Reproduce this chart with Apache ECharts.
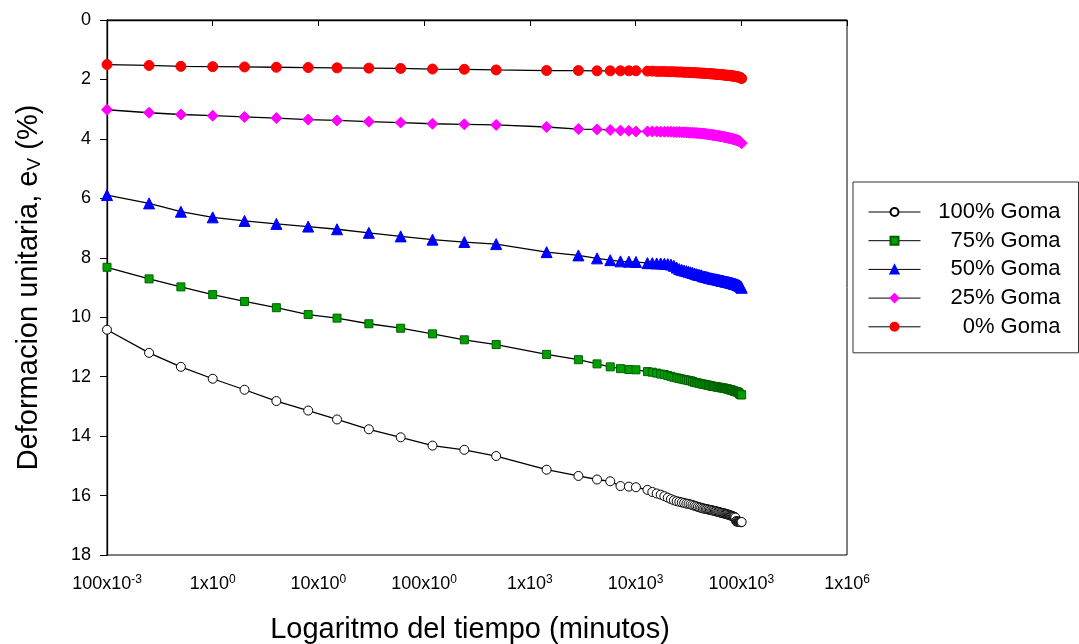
<!DOCTYPE html>
<html><head><meta charset="utf-8">
<script src="https://cdn.jsdelivr.net/npm/echarts@6/dist/echarts.min.js"></script>
<style>html,body{margin:0;padding:0;background:#fff}#c{width:1079px;height:644px}</style>
</head><body><div id="c"></div>
<script>
// Tiempo (minutos)
const tiempo = [0.1, 0.25, 0.5, 1, 2, 4, 8, 15, 30, 60, 120, 240, 480, 1440, 2880, 4320, 5760, 7200, 8640, 10080,
  12960, 14400, 15840, 17280, 18720, 20160, 21600, 23040, 24480, 25920, 27360, 28800, 30240, 31680, 33120, 34560, 36000, 37440, 38880, 40320, 41760,
  43200, 44640, 46080, 47520, 48960, 50400, 51840, 53280, 54720, 56160,
  57600, 59040, 60480, 61920, 63360, 64800, 66240, 67680, 69120, 70560,
  72000, 73440, 74880, 76320, 77760, 79200, 80640, 82080, 83520, 84960,
  86400, 87840, 89280, 90720, 92160, 93600, 95040, 96480, 97920, 99360, 100800];

const goma100 = [10.42, 11.20, 11.67, 12.07, 12.44, 12.82, 13.14, 13.44, 13.77, 14.04, 14.32, 14.46, 14.67, 15.13, 15.34, 15.46, 15.52, 15.68, 15.70, 15.72,
  15.81, 15.88, 15.93, 15.97, 16.02, 16.07, 16.12, 16.16, 16.19, 16.21, 16.23, 16.25, 16.27, 16.28, 16.30, 16.32, 16.34, 16.36, 16.38, 16.40, 16.41,
  16.43, 16.44, 16.45, 16.46, 16.47, 16.48, 16.49, 16.50, 16.51, 16.52,
  16.53, 16.54, 16.55, 16.56, 16.57, 16.58, 16.59, 16.60, 16.60, 16.61,
  16.62, 16.63, 16.64, 16.65, 16.66, 16.67, 16.68, 16.69, 16.70, 16.71,
  16.72, 16.74, 16.86, 16.88, 16.87, 16.88, 16.89, 16.88, 16.89, 16.90, 16.89];

const goma75 = [8.32, 8.71, 8.98, 9.24, 9.47, 9.68, 9.91, 10.03, 10.22, 10.37, 10.56, 10.76, 10.92, 11.25, 11.43, 11.57, 11.67, 11.73, 11.76, 11.77,
  11.83, 11.85, 11.88, 11.91, 11.93, 11.96, 11.99, 12.02, 12.04, 12.06, 12.08, 12.10, 12.11, 12.13, 12.14, 12.16, 12.19, 12.20, 12.21, 12.23, 12.24,
  12.25, 12.26, 12.27, 12.28, 12.29, 12.30, 12.31, 12.32, 12.33, 12.33,
  12.34, 12.35, 12.35, 12.36, 12.37, 12.37, 12.38, 12.38, 12.39, 12.40,
  12.40, 12.41, 12.42, 12.43, 12.44, 12.44, 12.45, 12.46, 12.47, 12.48,
  12.49, 12.50, 12.50, 12.51, 12.52, 12.53, 12.55, 12.58, 12.60, 12.61, 12.61];

const goma50 = [5.89, 6.17, 6.45, 6.64, 6.76, 6.86, 6.95, 7.04, 7.16, 7.28, 7.39, 7.47, 7.54, 7.81, 7.92, 8.02, 8.08, 8.12, 8.13, 8.14,
  8.18, 8.18, 8.19, 8.19, 8.20, 8.21, 8.23, 8.27, 8.33, 8.38, 8.41, 8.43, 8.45, 8.47, 8.49, 8.51, 8.53, 8.55, 8.57, 8.58, 8.59,
  8.62, 8.63, 8.64, 8.65, 8.67, 8.68, 8.69, 8.70, 8.71, 8.72,
  8.72, 8.73, 8.74, 8.75, 8.76, 8.77, 8.77, 8.78, 8.79, 8.80,
  8.80, 8.81, 8.82, 8.82, 8.83, 8.84, 8.85, 8.85, 8.86, 8.87,
  8.88, 8.88, 8.89, 8.90, 8.91, 8.92, 8.93, 8.94, 8.96, 8.98, 9.01];

const goma25 = [3.02, 3.12, 3.18, 3.22, 3.26, 3.30, 3.35, 3.38, 3.42, 3.45, 3.49, 3.51, 3.53, 3.60, 3.67, 3.68, 3.70, 3.72, 3.73, 3.75,
  3.75, 3.75, 3.75, 3.76, 3.76, 3.76, 3.76, 3.77, 3.77, 3.77, 3.78, 3.78, 3.78, 3.79, 3.79, 3.79, 3.80, 3.80, 3.81, 3.81, 3.82,
  3.82, 3.83, 3.83, 3.84, 3.85, 3.85, 3.86, 3.87, 3.87, 3.88,
  3.88, 3.89, 3.90, 3.90, 3.91, 3.92, 3.92, 3.93, 3.94, 3.94,
  3.95, 3.96, 3.96, 3.97, 3.98, 3.98, 3.99, 4.00, 4.00, 4.01,
  4.02, 4.03, 4.03, 4.04, 4.05, 4.06, 4.07, 4.08, 4.10, 4.12, 4.15];

const goma0 = [1.50, 1.53, 1.56, 1.57, 1.58, 1.59, 1.60, 1.61, 1.62, 1.63, 1.65, 1.66, 1.68, 1.70, 1.70, 1.71, 1.71, 1.71, 1.71, 1.71,
  1.72, 1.72, 1.73, 1.73, 1.73, 1.74, 1.74, 1.74, 1.75, 1.75, 1.75, 1.76, 1.76, 1.76, 1.77, 1.77, 1.77, 1.78, 1.78, 1.78, 1.79,
  1.79, 1.79, 1.80, 1.80, 1.80, 1.81, 1.81, 1.81, 1.82, 1.82,
  1.82, 1.83, 1.83, 1.83, 1.84, 1.84, 1.84, 1.85, 1.85, 1.85,
  1.86, 1.86, 1.86, 1.87, 1.87, 1.87, 1.88, 1.88, 1.88, 1.89,
  1.89, 1.90, 1.90, 1.91, 1.91, 1.92, 1.92, 1.93, 1.94, 1.95, 1.97];

const seriesNames = ['100% Goma', '75% Goma', '50% Goma', '25% Goma', '0% Goma'];
const xTickMantissa = ['100', '1', '10', '100', '1', '10', '100', '1'];
const xTickExponent = ['-3', '0', '0', '0', '3', '3', '3', '6'];
const xTitle = 'Logaritmo del tiempo (minutos)';
const yTitleMain = 'Deformacion unitaria, e';
const yTitleSub = 'V';
const yTitleEnd = ' (%)';

const FONT = '"Liberation Sans", Arial, sans-serif';
function pairs(vals) { return vals.map((v, i) => [tiempo[i], v]); }

const styles = [
  { symbol: 'circle', size: 9, fill: '#ffffff', border: '#000000' },
  { symbol: 'rect', size: 8, fill: '#00a000', border: '#006000' },
  { symbol: 'triangle', size: 11, fill: '#0000ff', border: '#0000ff' },
  { symbol: 'diamond', size: 11, fill: '#ff00ff', border: '#ff00ff' },
  { symbol: 'circle', size: 10, fill: '#ff0000', border: '#ff0000' }
];
const dataSets = [goma100, goma75, goma50, goma25, goma0];

const series = dataSets.map((vals, k) => ({
  name: seriesNames[k],
  type: 'line',
  data: pairs(vals),
  symbol: styles[k].symbol,
  symbolSize: styles[k].size,
  showAllSymbol: true,
  z: 10 - k,
  lineStyle: { color: '#000', width: 1.3 },
  itemStyle: { color: styles[k].fill, borderColor: styles[k].border, borderWidth: 1, opacity: 1 },
  emphasis: { disabled: true },
  animation: false
}));

const chart = echarts.init(document.getElementById('c'), null, { renderer: 'canvas' });
chart.setOption({
  animation: false,
  backgroundColor: '#fff',
  textStyle: { fontFamily: FONT, color: '#000' },
  grid: { left: 107, top: 20, width: 740, height: 535, show: true, borderColor: '#000', borderWidth: 1, backgroundColor: 'transparent', containLabel: false, outerBoundsMode: 'none' },
  legend: {
    orient: 'vertical',
    left: 853, top: 182,
    padding: [19, 18, 15, 15],
    itemWidth: 52, itemHeight: 10, itemGap: 6.7, itemTextGap: 15,
    borderColor: '#333', borderWidth: 1,
    data: seriesNames,
    lineStyle: { width: 1 },
    formatter: n => '{t|' + n + '}',
    textStyle: { fontFamily: FONT, fontSize: 22, color: '#000', rich: { t: { width: 135, align: 'right', fontSize: 22, fontFamily: FONT } } }
  },
  xAxis: {
    type: 'log', logBase: 10, min: 0.1, max: 1000000, splitNumber: 7,
    name: xTitle, nameLocation: 'middle', nameGap: 60,
    nameTextStyle: { fontSize: 29, fontFamily: FONT, color: '#000', padding: [0, 14, 0, 0] },
    axisLine: { lineStyle: { color: '#000', width: 1.3 } },
    axisTick: { show: true, inside: false, length: 6, lineStyle: { color: '#000', width: 1 } },
    minorTick: { show: false },
    splitLine: { show: false },
    axisLabel: {
      margin: 19, color: '#000',
      formatter: v => {
        const i = Math.round(Math.log10(v)) + 1;
        return '{b|' + xTickMantissa[i] + 'x10}{s|' + xTickExponent[i] + '}';
      },
      rich: {
        b: { fontSize: 18, fontFamily: FONT, color: '#000', lineHeight: 20 },
        s: { fontSize: 12, fontFamily: FONT, color: '#000', verticalAlign: 'top', lineHeight: 12, padding: [0, 0, 8, 0] }
      }
    }
  },
  yAxis: {
    type: 'value', inverse: true, min: 0, max: 18, interval: 2,
    name: '{a|' + yTitleMain + '}{s|' + yTitleSub + '}{a|' + yTitleEnd + '}',
    nameLocation: 'middle', nameGap: 63, nameRotate: 90,
    nameTextStyle: {
      color: '#000',
      rich: {
        a: { fontSize: 29, fontFamily: FONT, color: '#000' },
        s: { fontSize: 19, fontFamily: FONT, color: '#000', padding: [11, 0, 0, 0] }
      }
    },
    axisLine: { lineStyle: { color: '#000', width: 1.3 } },
    axisTick: { show: true, inside: false, length: 7, lineStyle: { color: '#000', width: 1 } },
    splitLine: { show: false },
    axisLabel: { fontSize: 18, fontFamily: FONT, color: '#000', margin: 16 }
  },
  series: series
});
</script></body></html>
